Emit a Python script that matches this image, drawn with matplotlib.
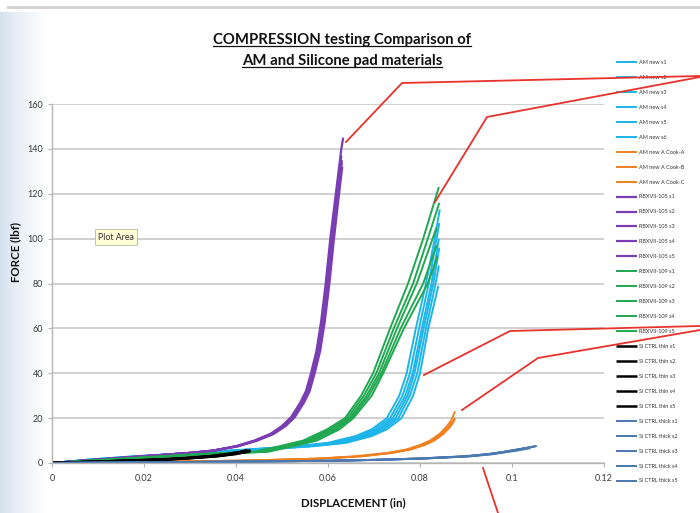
import matplotlib
matplotlib.use("Agg")
import matplotlib.pyplot as plt
import numpy as np
from matplotlib.lines import Line2D
from matplotlib.colors import LinearSegmentedColormap

plt.rcParams['font.family'] = ['Lato', 'DejaVu Sans']

# ---- data (displacement in inches, force in lbf) ----
am_labels = ["AM new s1", "AM new s2", "AM new s3", "AM new s4", "AM new s5", "AM new s6"]
am_x = [
    [0, 0.008, 0.018, 0.030, 0.042, 0.053, 0.060, 0.0660, 0.0695, 0.0728, 0.0755, 0.0771, 0.0791, 0.0813, 0.0832, 0.0843],
    [0, 0.008, 0.018, 0.031, 0.043, 0.054, 0.061, 0.0668, 0.0702, 0.0735, 0.0762, 0.0778, 0.0798, 0.0819, 0.0836, 0.0842],
    [0, 0.008, 0.019, 0.031, 0.044, 0.055, 0.062, 0.0675, 0.0709, 0.0741, 0.0768, 0.0784, 0.0804, 0.0825, 0.0841],
    [0, 0.009, 0.019, 0.032, 0.045, 0.056, 0.063, 0.0682, 0.0715, 0.0747, 0.0773, 0.0788, 0.0808, 0.0829, 0.0842],
    [0, 0.009, 0.020, 0.032, 0.045, 0.056, 0.063, 0.0688, 0.0721, 0.0753, 0.0778, 0.0794, 0.0813, 0.0834, 0.0841],
    [0, 0.009, 0.020, 0.033, 0.046, 0.057, 0.064, 0.0695, 0.0728, 0.0760, 0.0785, 0.0800, 0.0818, 0.0840],
]
am_f = [
    [0, 1.5, 3, 4.5, 6, 7.5, 9, 12, 15, 20, 30, 40, 60, 80, 100, 113],
    [0, 1.5, 3, 4.5, 6, 7.5, 9, 12, 15, 20, 30, 40, 60, 80, 100, 107],
    [0, 1.5, 3, 4.5, 6, 7.5, 9, 12, 15, 20, 30, 40, 60, 80, 100],
    [0, 1.5, 3, 4.5, 6, 7.5, 9, 12, 15, 20, 30, 40, 60, 80, 96],
    [0, 1.5, 3, 4.5, 6, 7.5, 9, 12, 15, 20, 30, 40, 60, 80, 88],
    [0, 1.5, 3, 4.5, 6, 7.5, 9, 12, 15, 20, 30, 40, 60, 79],
]

cook_labels = ["AM new A Cook-A", "AM new A Cook-B", "AM new A Cook-C"]
cook_x = [
    [0, 0.02, 0.04, 0.050, 0.058, 0.066, 0.0730, 0.0770, 0.0800, 0.0822, 0.0843, 0.0857, 0.0868, 0.0876],
    [0, 0.02, 0.04, 0.050, 0.059, 0.067, 0.0735, 0.0775, 0.0805, 0.0827, 0.0848, 0.0862, 0.0877],
    [0, 0.02, 0.04, 0.051, 0.059, 0.0675, 0.0740, 0.0780, 0.0810, 0.0831, 0.0851, 0.0865, 0.0875],
]
cook_f = [
    [0, 0.5, 1, 1.5, 2, 3, 4.5, 6, 8, 10, 13, 16, 19, 23],
    [0, 0.5, 1, 1.5, 2, 3, 4.5, 6, 8, 10, 13, 16, 20],
    [0, 0.5, 1, 1.5, 2, 3, 4.5, 6, 8, 10, 13, 16, 19],
]

rb105_labels = ["RBXVII-105 s1", "RBXVII-105 s2", "RBXVII-105 s3", "RBXVII-105 s4", "RBXVII-105 s5"]
rb105_x = [
    [0, 0.01, 0.02, 0.03, 0.035, 0.0400, 0.0440, 0.0475, 0.0500, 0.0520, 0.0540, 0.0552, 0.0563, 0.0575, 0.0585, 0.0595, 0.0605, 0.0617, 0.0629, 0.0633],
    [0, 0.01, 0.02, 0.03, 0.035, 0.0402, 0.0442, 0.0477, 0.0502, 0.0522, 0.0542, 0.0554, 0.0565, 0.0577, 0.0587, 0.0597, 0.0607, 0.0619, 0.0629],
    [0, 0.01, 0.02, 0.03, 0.035, 0.0403, 0.0443, 0.0479, 0.0504, 0.0524, 0.0544, 0.0556, 0.0567, 0.0579, 0.0589, 0.0599, 0.0609, 0.0621, 0.0630],
    [0, 0.01, 0.02, 0.03, 0.035, 0.0404, 0.0445, 0.0481, 0.0506, 0.0526, 0.0546, 0.0558, 0.0569, 0.0581, 0.0591, 0.0601, 0.0611, 0.0622, 0.0630],
    [0, 0.01, 0.02, 0.03, 0.035, 0.0405, 0.0446, 0.0482, 0.0508, 0.0528, 0.0548, 0.0560, 0.0571, 0.0583, 0.0593, 0.0603, 0.0613, 0.0624, 0.0631],
]
rb105_f = [
    [0, 1.5, 3, 4.5, 5.5, 7.5, 10, 13, 16.5, 20.5, 27, 32, 40, 50, 63, 80, 100, 120, 140, 145],
    [0, 1.5, 3, 4.5, 5.5, 7.5, 10, 13, 16.5, 20.5, 27, 32, 40, 50, 63, 80, 100, 120, 137],
    [0, 1.5, 3, 4.5, 5.5, 7.5, 10, 13, 16.5, 20.5, 27, 32, 40, 50, 63, 80, 100, 120, 135],
    [0, 1.5, 3, 4.5, 5.5, 7.5, 10, 13, 16.5, 20.5, 27, 32, 40, 50, 63, 80, 100, 120, 134],
    [0, 1.5, 3, 4.5, 5.5, 7.5, 10, 13, 16.5, 20.5, 27, 32, 40, 50, 63, 80, 100, 120, 132],
]

rb109_labels = ["RBXVII-109 s1", "RBXVII-109 s2", "RBXVII-109 s3", "RBXVII-109 s4", "RBXVII-109 s5"]
rb109_x = [
    [0, 0.008, 0.020, 0.032, 0.0440, 0.0495, 0.0546, 0.0598, 0.0637, 0.0672, 0.0698, 0.0735, 0.0774, 0.0807, 0.0841],
    [0, 0.008, 0.020, 0.033, 0.0448, 0.0503, 0.0554, 0.0605, 0.0642, 0.0678, 0.0705, 0.0743, 0.0785, 0.0817, 0.0842],
    [0, 0.008, 0.021, 0.033, 0.0455, 0.0510, 0.0561, 0.0612, 0.0647, 0.0684, 0.0711, 0.0750, 0.0793, 0.0836],
    [0, 0.008, 0.021, 0.034, 0.0462, 0.0518, 0.0568, 0.0618, 0.0651, 0.0689, 0.0716, 0.0758, 0.0807, 0.0836],
    [0, 0.009, 0.022, 0.034, 0.0470, 0.0525, 0.0576, 0.0625, 0.0655, 0.0695, 0.0720, 0.0765, 0.0817, 0.0838],
]
rb109_f = [
    [0, 1, 2.5, 4, 5, 7.5, 10, 15, 20, 30, 40, 60, 80, 100, 123],
    [0, 1, 2.5, 4, 5, 7.5, 10, 15, 20, 30, 40, 60, 80, 100, 116],
    [0, 1, 2.5, 4, 5, 7.5, 10, 15, 20, 30, 40, 60, 80, 105],
    [0, 1, 2.5, 4, 5, 7.5, 10, 15, 20, 30, 40, 60, 80, 97],
    [0, 1, 2.5, 4, 5, 7.5, 10, 15, 20, 30, 40, 60, 80, 92],
]

thin_labels = ["Si CTRL thin s1", "Si CTRL thin s2", "Si CTRL thin s3", "Si CTRL thin s4", "Si CTRL thin s5"]
thin_x = [
    [0, 0.008, 0.016, 0.022, 0.027, 0.034, 0.038, 0.041, 0.0425],
    [0, 0.008, 0.016, 0.023, 0.028, 0.0345, 0.0385, 0.0415, 0.0430],
    [0, 0.008, 0.017, 0.023, 0.028, 0.035, 0.039, 0.042, 0.0428],
    [0, 0.009, 0.017, 0.024, 0.029, 0.0355, 0.0395, 0.0422, 0.0432],
    [0, 0.009, 0.017, 0.024, 0.029, 0.036, 0.040, 0.0425, 0.0430],
]
thin_f = [
    [0, 0.5, 1, 1.5, 2, 3, 4, 5, 5.8],
    [0, 0.5, 1, 1.5, 2, 3, 4, 5, 5.5],
    [0, 0.5, 1, 1.5, 2, 3, 4, 5, 5.4],
    [0, 0.5, 1, 1.5, 2, 3, 4, 5, 5.6],
    [0, 0.5, 1, 1.5, 2, 3, 4, 5, 5.2],
]

thick_labels = ["Si CTRL thick s1", "Si CTRL thick s2", "Si CTRL thick s3", "Si CTRL thick s4", "Si CTRL thick s5"]
thick_x = [
    [0, 0.02, 0.04, 0.060, 0.070, 0.080, 0.090, 0.095, 0.100, 0.1054],
    [0, 0.02, 0.04, 0.060, 0.070, 0.080, 0.090, 0.095, 0.100, 0.1048],
    [0, 0.02, 0.04, 0.061, 0.071, 0.081, 0.091, 0.096, 0.101, 0.1040],
    [0, 0.02, 0.04, 0.061, 0.071, 0.081, 0.091, 0.096, 0.100, 0.1035],
    [0, 0.02, 0.04, 0.060, 0.070, 0.080, 0.090, 0.095, 0.100, 0.1052],
]
thick_f = [
    [0, 0.3, 0.6, 1.0, 1.4, 2.0, 3.0, 4.0, 5.5, 7.6],
    [0, 0.3, 0.6, 1.0, 1.4, 2.0, 3.0, 4.0, 5.5, 7.3],
    [0, 0.3, 0.6, 1.0, 1.4, 2.0, 3.0, 4.0, 5.5, 6.6],
    [0, 0.3, 0.6, 1.0, 1.4, 2.0, 3.0, 4.0, 5.7, 6.8],
    [0, 0.3, 0.6, 1.0, 1.4, 2.0, 3.0, 4.0, 5.4, 7.5],
]

x_ticks = [0, 0.02, 0.04, 0.06, 0.08, 0.1, 0.12]
x_ticklabels = ["0", "0.02", "0.04", "0.06", "0.08", "0.1", "0.12"]
y_ticks = [0, 20, 40, 60, 80, 100, 120, 140, 160]

groups = [
    (am_labels, am_x, am_f, "#1db4ea", 1.4),
    (cook_labels, cook_x, cook_f, "#f0801f", 1.4),
    (rb105_labels, rb105_x, rb105_f, "#7a3db3", 1.6),
    (rb109_labels, rb109_x, rb109_f, "#1fa84f", 1.4),
    (thin_labels, thin_x, thin_f, "#000000", 1.8),
    (thick_labels, thick_x, thick_f, "#4a78b0", 1.4),
]

W, H = 700, 513
fig = plt.figure(figsize=(7, 5.13), dpi=100)
fig.patch.set_facecolor("white")

def fx(px):
    return px / W

def fy(py):
    return 1 - py / H

# light blue screen background on the left edge
bg = fig.add_axes([0, 0, fx(48), fy(12)], zorder=-5)
grad = np.linspace(0, 1, 64)[None, :]
cm = LinearSegmentedColormap.from_list("bg", ["#d6e2ef", "#eef3f8", "#ffffff"])
bg.imshow(grad, aspect="auto", cmap=cm, extent=[0, 1, 0, 1])
bg.axis("off")
fig.add_artist(Line2D([fx(8), 1], [fy(7), fy(7)], color="#d4d4d4", lw=2.2))

ax = fig.add_axes([fx(52), fy(463), fx(604 - 52), fy(104) - fy(463)])
ax.set_facecolor("none")

for labels, xs, fs, col, lw in groups:
    for lab, xv, fv in zip(labels, xs, fs):
        ax.plot(xv, fv, color=col, lw=lw, label=lab, solid_capstyle="butt")

ax.set_xlim(0, 0.12)
ax.set_ylim(0, 160)
ax.set_xticks(x_ticks)
ax.set_xticklabels(x_ticklabels)
ax.set_yticks(y_ticks)
ax.yaxis.grid(True, color="#c3c3c3", lw=1.1)
ax.set_axisbelow(True)
for s in ["top", "right"]:
    ax.spines[s].set_visible(False)
for s in ["left", "bottom"]:
    ax.spines[s].set_color("#b5b5b5")
    ax.spines[s].set_linewidth(1.0)
ax.tick_params(axis="both", colors="#b5b5b5", labelcolor="#3a3a3a", labelsize=6.5, length=3, width=0.8)
ax.tick_params(axis="x", pad=5)

fig.text(fx(353), fy(503), "DISPLACEMENT (in)", ha="center", va="center", fontsize=8.3, fontweight="bold", color="#111111")
fig.text(fx(16), fy(252), "FORCE (lbf)", ha="center", va="center", rotation=90, fontsize=8.3, fontweight="bold", color="#111111")

leg = ax.legend(loc="upper left", bbox_to_anchor=(fx(616), fy(60)), bbox_transform=fig.transFigure,
                frameon=False, fontsize=4.0, handlelength=3.8, handletextpad=0.3, labelspacing=1.79,
                borderpad=0, borderaxespad=0)
for t in leg.get_texts():
    t.set_color("#333333")

# title with underline
titles = []
for py, txt in [(40, "COMPRESSION testing Comparison of"), (61, "AM and Silicone pad materials")]:
    titles.append(fig.text(fx(342), fy(py), txt, ha="center", va="center", fontsize=10.7, fontweight="bold", color="#111111"))
fig.canvas.draw()
inv = fig.transFigure.inverted()
for t in titles:
    bb = t.get_window_extent()
    (x0, y0), (x1, _) = inv.transform([(bb.x0, bb.y0 + 1), (bb.x1, bb.y0)])
    fig.add_artist(Line2D([x0, x1], [y0, y0], color="#111111", lw=0.9))

# "Plot Area" tooltip
fig.text(fx(116), fy(237), "Plot Area", ha="center", va="center", fontsize=6.3, color="#333333",
         bbox=dict(boxstyle="square,pad=0.35", facecolor="#fdfdd6", edgecolor="#b8b8a0", lw=0.6))

# red callout lines drawn over the chart
callouts = [
    [(346, 142), (402, 83), (700, 76)],
    [(435, 202), (487, 117), (700, 77)],
    [(424, 375), (510, 331), (700, 326)],
    [(462, 410), (538, 358), (700, 330)],
    [(483, 468), (498, 513)],
]
for pts in callouts:
    xs_ = [fx(p[0]) for p in pts]
    ys_ = [fy(p[1]) for p in pts]
    fig.add_artist(Line2D(xs_, ys_, color="#e8322c", lw=1.3, zorder=10))

fig.savefig("out.png", dpi=100)
